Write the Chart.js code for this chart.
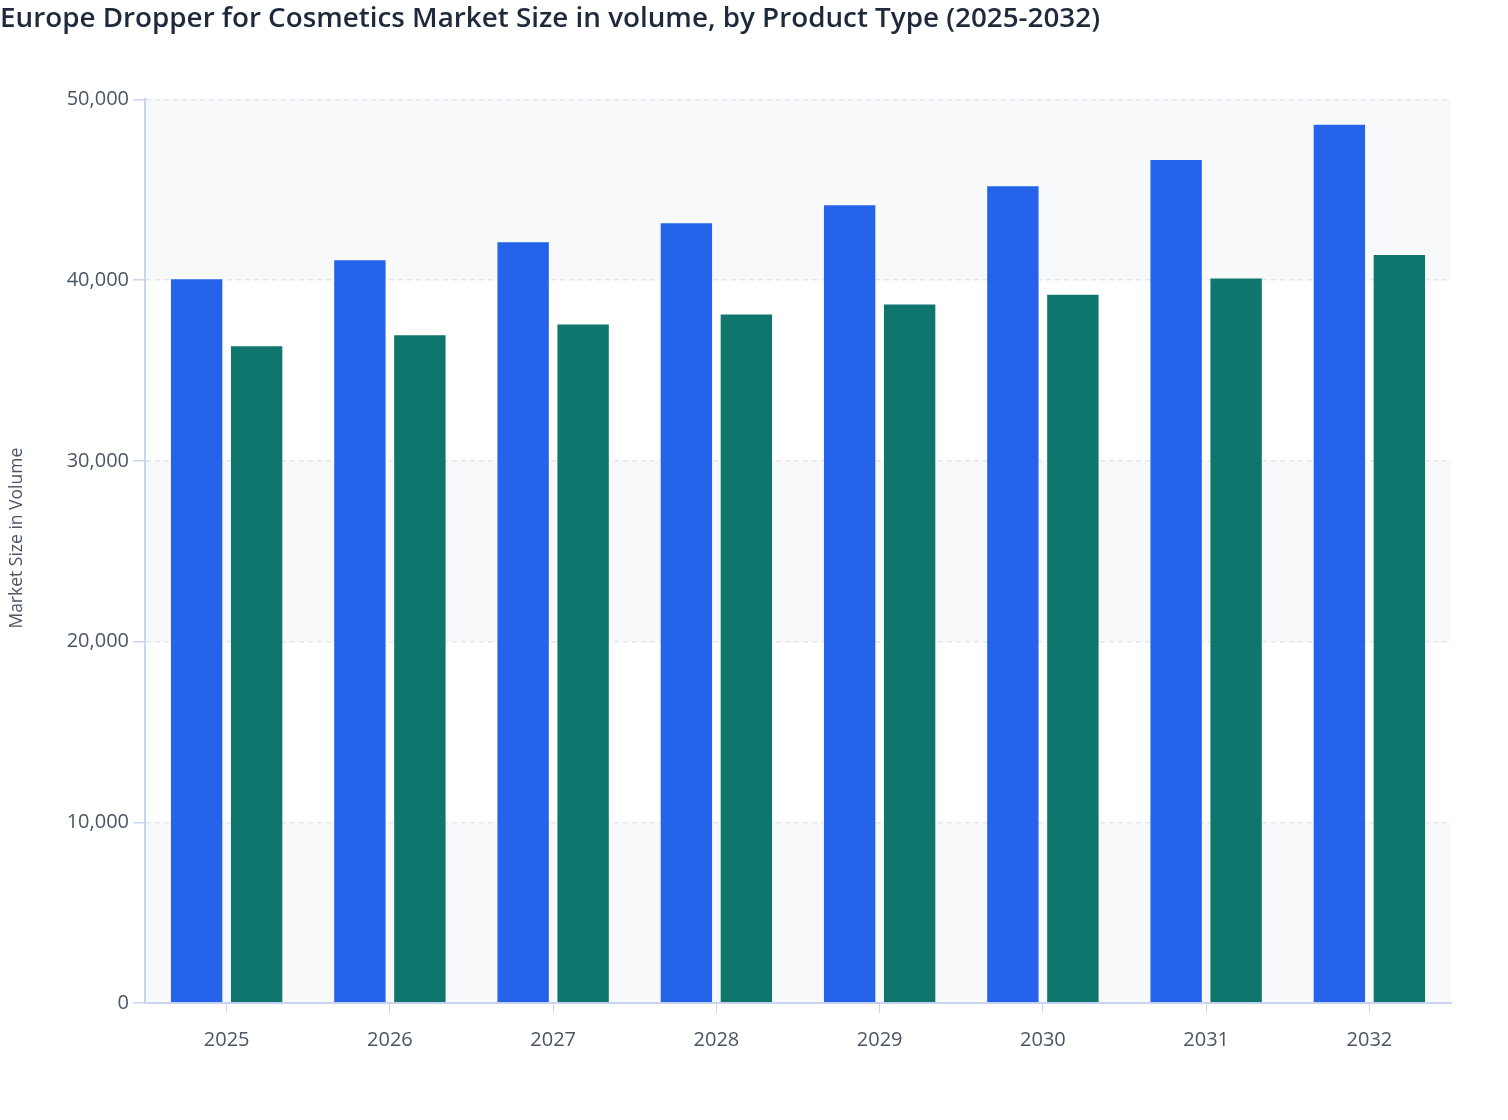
<!DOCTYPE html>
<html>
<head>
<meta charset="utf-8">
<script src="https://cdn.jsdelivr.net/npm/chart.js@4.4.1/dist/chart.umd.min.js"></script>
<style>
  html, body { margin: 0; padding: 0; background: #fff; }
  #wrap { width: 1508px; height: 1120px; }
</style>
</head>
<body>
<div id="wrap"><canvas id="chart"></canvas></div>
<script>
// data
var years = ['2025', '2026', '2027', '2028', '2029', '2030', '2031', '2032'];
var seriesA = [40100, 41150, 42150, 43200, 44200, 45250, 46700, 48650];
var seriesB = [36400, 37000, 37600, 38150, 38700, 39250, 40150, 41450];
var yTicks = [0, 10000, 20000, 30000, 40000, 50000];
var yTitle = 'Market Size in Volume';

var axisColor = '#c9d5f0';
var textColor = '#4b5563';

// light bands behind every other 10k step
var bandPlugin = {
  id: 'bands',
  beforeDraw: function(chart) {
    var ctx = chart.ctx, area = chart.chartArea, y = chart.scales.y;
    ctx.save();
    ctx.fillStyle = '#f8f9fb';
    for (var i = 0; i < yTicks.length - 1; i += 2) {
      var top = y.getPixelForValue(yTicks[i + 1]);
      var bot = y.getPixelForValue(yTicks[i]);
      ctx.fillRect(area.left, top, area.right - area.left, bot - top);
    }
    ctx.restore();
  },
  // y axis title, sits a bit above the plot middle in the original
  afterDraw: function(chart) {
    var ctx = chart.ctx, area = chart.chartArea;
    ctx.save();
    ctx.translate(17, (area.top + area.bottom) / 2 - 13);
    ctx.rotate(-Math.PI / 2);
    ctx.fillStyle = textColor;
    ctx.font = '17.5px "Open Sans"';
    ctx.textAlign = 'center';
    ctx.textBaseline = 'middle';
    ctx.fillText(yTitle, 0, 0);
    ctx.restore();
  }
};

var config = {
  type: 'bar',
  data: {
    labels: years,
    datasets: [{
      data: seriesA,
      backgroundColor: '#2563eb',
      borderColor: 'rgba(255,255,255,0.45)',
      borderWidth: 1
    }, {
      data: seriesB,
      backgroundColor: '#0f766e',
      borderColor: 'rgba(255,255,255,0.45)',
      borderWidth: 1
    }]
  },
  options: {
    responsive: true,
    maintainAspectRatio: false,
    animation: false,
    categoryPercentage: 0.735,
    barPercentage: 0.89,
    layout: { padding: { left: 0, right: 57, top: 0, bottom: 0 } },
    plugins: {
      legend: { display: false },
      tooltip: { enabled: false },
      title: {
        display: true,
        text: 'Europe Dropper for Cosmetics Market Size in volume, by Product Type (2025-2032)',
        align: 'start',
        color: '#1e293b',
        font: { family: 'Open Sans', size: 27.8, weight: '600' },
        padding: { top: 2, bottom: 64 }
      }
    },
    scales: {
      x: {
        grid: {
          offset: false,
          drawOnChartArea: false,
          color: axisColor,
          tickColor: axisColor,
          tickLength: 10
        },
        border: { color: axisColor, width: 2 },
        ticks: {
          color: textColor,
          font: { family: 'Open Sans', size: 20 },
          padding: 15
        },
        afterFit: function(scale) { scale.height = 117; }
      },
      y: {
        min: 0,
        max: 50000,
        grid: {
          color: '#e3e6ec',
          lineWidth: 1.5,
          tickColor: axisColor,
          tickBorderDash: [],
          tickLength: 12
        },
        border: { color: axisColor, width: 2, dash: [5, 4] },
        afterBuildTicks: function(scale) {
          scale.ticks = yTicks.map(function(v) { return { value: v }; });
        },
        ticks: {
          color: textColor,
          font: { family: 'Open Sans', size: 20 },
          padding: 4,
          callback: function(v) { return v.toLocaleString('en-US'); }
        },
        afterFit: function(scale) { scale.width = 145; }
      }
    }
  },
  plugins: [bandPlugin]
};

new Chart(document.getElementById('chart'), config);
</script>
</body>
</html>
